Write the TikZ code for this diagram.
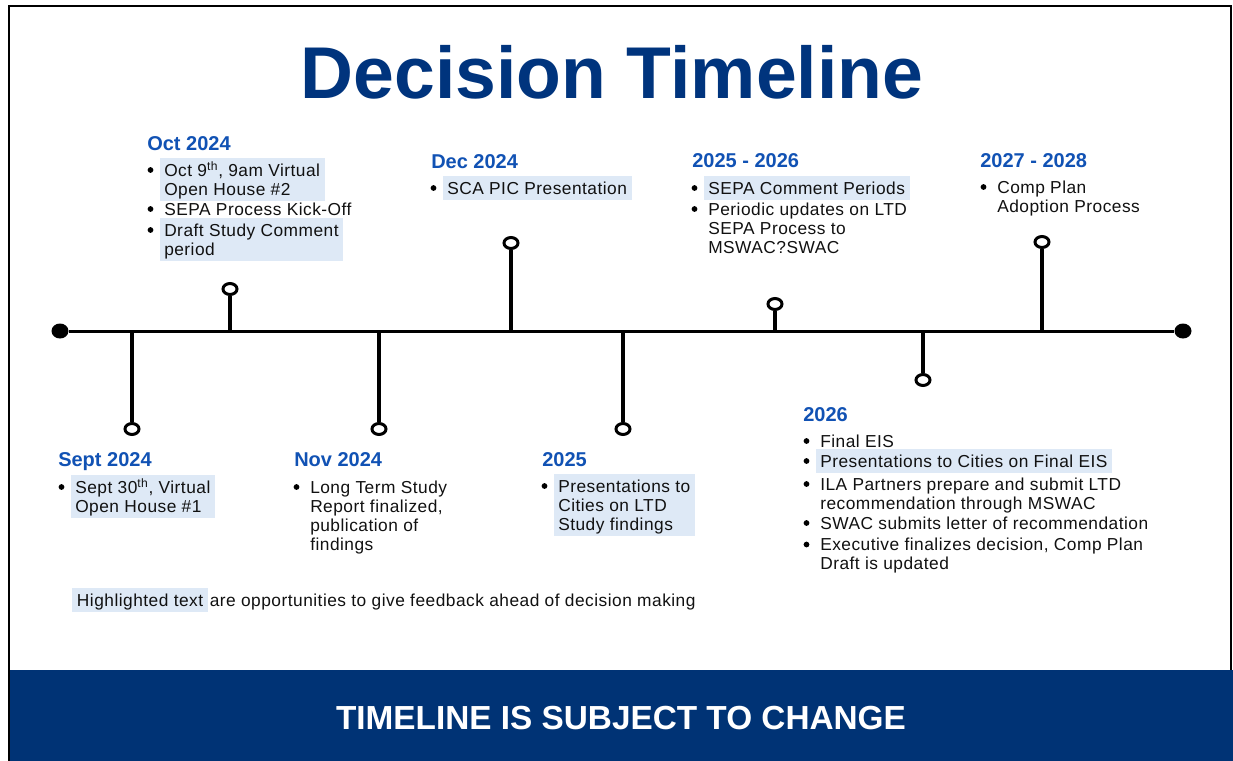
\documentclass[tikz,border=0pt]{standalone}
\usepackage{fontspec}
\setmainfont{Liberation Sans}
\newfontfamily\bodyfont[LetterSpace=2.8]{Liberation Sans}
\usetikzlibrary{shapes.geometric}

\definecolor{titleblue}{RGB}{0,52,125}
\definecolor{headblue}{RGB}{17,82,180}
\definecolor{barblue}{RGB}{0,51,117}
\definecolor{hlblue}{RGB}{222,233,246}
\definecolor{inkblack}{RGB}{17,17,17}

% body text size, fixed line pitch
\newcommand\bodysize{\bodyfont\fontsize{13pt}{14.25pt}\selectfont\lineskiplimit=-\maxdimen\relax}
% strut that sets the extent of a highlight box
\newcommand\hstrut{\vrule width 0pt height 13.5pt depth 4.1pt\relax}
% \tlitem[style]{name}{text x}{first baseline}{text}
\newcommand\tlitem[5][]{%
  \node[itembox,#1] (#2) at (#3-4.67,#4-18) {\hstrut#5\hstrut};
  \node[bulletmark] (#2-dot) at (#3-13.5,#4-6) {};
}

\tikzset{
  x=0.75pt, y=-0.75pt,
  itembox/.style={anchor=north west, align=left, inner xsep=3.5pt, inner ysep=0pt,
    text=inkblack, font={\bodysize}},
  hl/.style={fill=hlblue},
  bulletmark/.style={circle, fill=black, minimum size=4.3pt, inner sep=0pt},
  heading/.style={anchor=base west, inner sep=0pt, text=headblue,
    font={\fontsize{15pt}{18pt}\selectfont\bfseries}},
  titletext/.style={anchor=base, inner sep=0pt, text=titleblue,
    font={\fontsize{55pt}{60pt}\selectfont\bfseries}},
  bartext/.style={anchor=base, inner sep=0pt, text=white,
    font={\fontsize{25pt}{30pt}\selectfont\bfseries}},
  notetext/.style={anchor=base west, inner sep=0pt, text=inkblack, font={\bodysize}},
  ring/.style={ellipse, draw=black, line width=2.25pt, fill=white,
    minimum width=10.5pt, minimum height=8.25pt, inner sep=0pt},
  enddot/.style={ellipse, fill=black, minimum width=12.75pt,
    minimum height=11.25pt, inner sep=0pt},
  mainline/.style={line width=2.25pt},
  stem/.style={line width=2.6pt},
}

\begin{document}
\begin{tikzpicture}
\useasboundingbox (0,0) rectangle (1233,761);
\fill[white] (0,0) rectangle (1233,761);

% banner
\fill[barblue] (9.5,670) rectangle (1233,761);
\node[bartext] (banner) at (621,729) {TIMELINE IS SUBJECT TO CHANGE};

% frame
\draw[line width=1.5pt, line join=miter] (1231,670) -- (1231,6.3) -- (8.7,6.3) -- (8.7,761);

% title
\node[titletext] (title) at (612,98) {Decision Timeline};

% timeline axis
\node[enddot] (tl-start) at (60,331) {};
\node[enddot] (tl-end) at (1183,331) {};
\draw[mainline] (tl-start) -- (tl-end);

% milestone stems
\foreach \nm/\xx/\yy in {sept/132/429, oct/230/289, nov/379/429, dec/511/243,
                         y25/623/429, y2526/775/304, y26/923/380, y2728/1042/242}{
  \coordinate (\nm-base) at (\xx,331);
  \node[ring] (\nm-ring) at (\xx,\yy) {};
  \draw[stem] (\nm-base) -- (\nm-ring);
}

% Oct 2024
\node[heading] (oct-head) at (147,150) {Oct 2024};
\tlitem[hl]{oct-a}{164}{176}{Oct 9\textsuperscript{th}, 9am Virtual\\Open House \#2}
\tlitem{oct-b}{164}{215}{SEPA Process Kick-Off}
\tlitem[hl]{oct-c}{164}{236}{Draft Study Comment\\period}

% Dec 2024
\node[heading] (dec-head) at (431,168) {Dec 2024};
\tlitem[hl]{dec-a}{447}{194}{SCA PIC Presentation}

% 2025 - 2026
\node[heading] (y2526-head) at (692,167) {2025 - 2026};
\tlitem[hl]{y2526-a}{708}{194}{SEPA Comment Periods}
\tlitem{y2526-b}{708}{215}{Periodic updates on LTD\\SEPA Process to\\MSWAC?SWAC}

% 2027 - 2028
\node[heading] (y2728-head) at (980,167) {2027 - 2028};
\tlitem{y2728-a}{997}{193}{Comp Plan\\Adoption Process}

% Sept 2024
\node[heading] (sept-head) at (58,466) {Sept 2024};
\tlitem[hl]{sept-a}{75}{493}{Sept 30\textsuperscript{th}, Virtual\\Open House \#1}

% Nov 2024
\node[heading] (nov-head) at (294,466) {Nov 2024};
\tlitem{nov-a}{310}{493}{Long Term Study\\Report finalized,\\publication of\\findings}

% 2025
\node[heading] (y25-head) at (542,466) {2025};
\tlitem[hl]{y25-a}{558}{492}{Presentations to\\Cities on LTD\\Study findings}

% 2026
\node[heading] (y26-head) at (803,421) {2026};
\tlitem{y26-a}{820}{447}{Final EIS}
\tlitem[hl]{y26-b}{820}{467}{Presentations to Cities on Final EIS}
\tlitem{y26-c}{820}{490}{ILA Partners prepare and submit LTD\\recommendation through MSWAC}
\tlitem{y26-d}{820}{529}{SWAC submits letter of recommendation}
\tlitem{y26-e}{820}{550.5}{Executive finalizes decision, Comp Plan\\Draft is updated}

% legend note
\node[itembox,hl] (note-hl) at (76.7-4.67,606-18) {\hstrut Highlighted text\hstrut};
\node[notetext, xshift=1pt] (note-rest) at (note-hl.base east) {are opportunities to give feedback ahead of decision making};
\end{tikzpicture}
\end{document}
